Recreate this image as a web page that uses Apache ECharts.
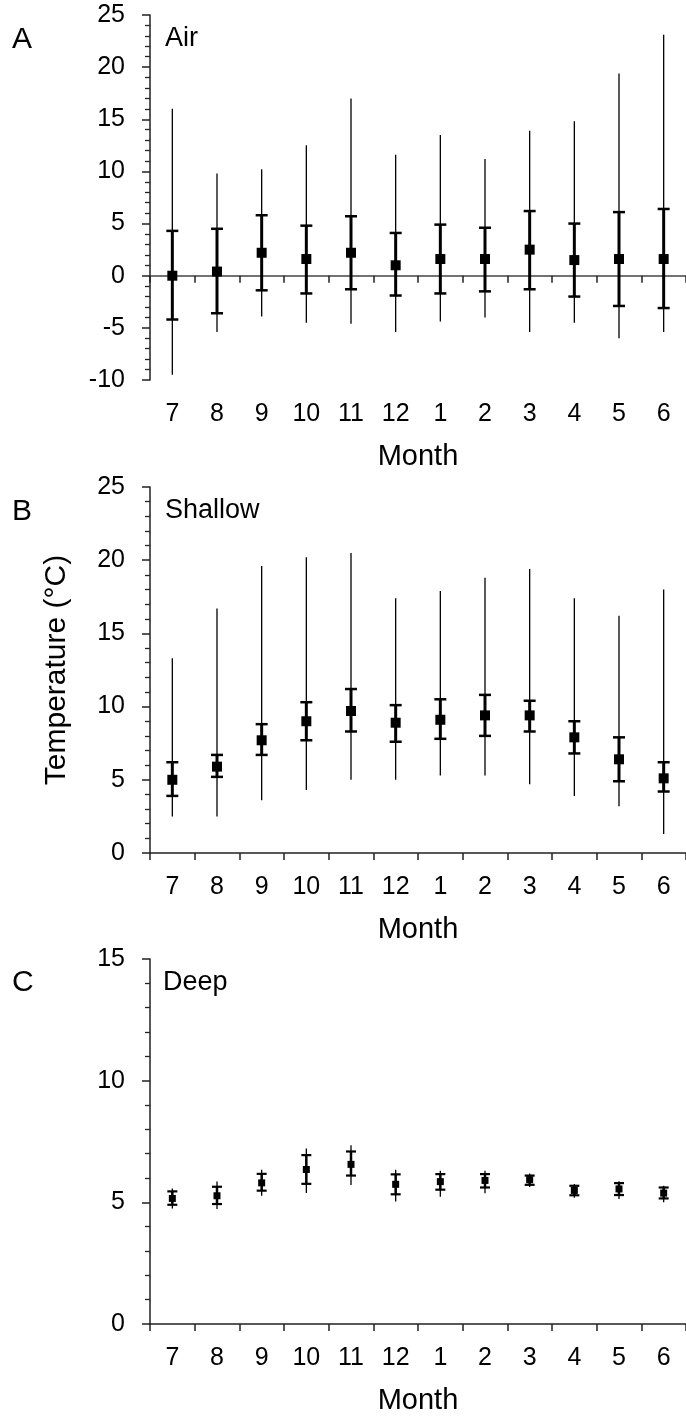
<!DOCTYPE html>
<html>
<head>
<meta charset="utf-8">
<script src="https://cdn.jsdelivr.net/npm/echarts@6/dist/echarts.min.js"></script>
<style>
html,body{margin:0;padding:0;background:#fff;}
#chart{width:686px;height:1416px;}
</style>
</head>
<body>
<div id="chart"></div>
<script>
// ---- data ----
const months = ['7','8','9','10','11','12','1','2','3','4','5','6'];

const airMean   = [0.0, 0.4, 2.2, 1.6, 2.2, 1.0, 1.6, 1.6, 2.5, 1.5, 1.6, 1.6];
const airSdLow  = [-4.2, -3.6, -1.4, -1.7, -1.3, -1.9, -1.7, -1.5, -1.3, -2.0, -2.9, -3.1];
const airSdHigh = [4.3, 4.5, 5.8, 4.8, 5.7, 4.1, 4.9, 4.6, 6.2, 5.0, 6.1, 6.4];
const airMin    = [-9.5, -5.4, -3.9, -4.5, -4.6, -5.4, -4.4, -4.0, -5.4, -4.5, -6.0, -5.4];
const airMax    = [16.0, 9.8, 10.2, 12.5, 17.0, 11.6, 13.5, 11.2, 13.9, 14.8, 19.4, 23.1];

const shallowMean   = [5.0, 5.9, 7.7, 9.0, 9.7, 8.9, 9.1, 9.4, 9.4, 7.9, 6.4, 5.1];
const shallowSdLow  = [3.9, 5.2, 6.7, 7.7, 8.3, 7.6, 7.8, 8.0, 8.3, 6.8, 4.9, 4.2];
const shallowSdHigh = [6.2, 6.7, 8.8, 10.3, 11.2, 10.1, 10.5, 10.8, 10.4, 9.0, 7.9, 6.2];
const shallowMin    = [2.5, 2.5, 3.6, 4.3, 5.0, 5.0, 5.3, 5.3, 4.7, 3.9, 3.2, 1.3];
const shallowMax    = [13.3, 16.7, 19.6, 20.2, 20.5, 17.4, 17.9, 18.8, 19.4, 17.4, 16.2, 18.0];

const deepMean   = [5.16, 5.27, 5.80, 6.35, 6.56, 5.74, 5.85, 5.90, 5.93, 5.49, 5.55, 5.38];
const deepSdLow  = [4.90, 4.93, 5.48, 5.76, 6.10, 5.33, 5.52, 5.61, 5.72, 5.29, 5.30, 5.16];
const deepSdHigh = [5.45, 5.64, 6.17, 6.94, 7.09, 6.15, 6.16, 6.16, 6.10, 5.68, 5.79, 5.61];
const deepMin    = [4.75, 4.73, 5.27, 5.38, 5.71, 5.03, 5.23, 5.37, 5.63, 5.19, 5.14, 5.00];
const deepMax    = [5.57, 5.86, 6.34, 7.21, 7.35, 6.34, 6.30, 6.30, 6.19, 5.75, 5.87, 5.68];

const yTicksAir = [-10, 25, 5];
const yTicksShallow = [0, 25, 5];
const yTicksDeep = [0, 15, 5];

// ---- chart ----
const FONT = "'Liberation Sans', Arial, Helvetica, sans-serif";
const AX = '#222';

function rows(mean, sl, sh, mn, mx) {
  return months.map((m, i) => [i, mean[i], sl[i], sh[i], mn[i], mx[i]]);
}

function makeRender(markSize, capW, sdW, capLW) {
  return function (params, api) {
    const i = api.value(0);
    const c = api.coord([i, api.value(1)]);
    const sl = api.coord([i, api.value(2)]);
    const sh = api.coord([i, api.value(3)]);
    const mn = api.coord([i, api.value(4)]);
    const mx = api.coord([i, api.value(5)]);
    const st = { stroke: '#000', lineWidth: 1.3 };
    return {
      type: 'group',
      children: [
        { type: 'line', shape: { x1: mn[0], y1: mn[1], x2: mx[0], y2: mx[1] }, style: st },
        { type: 'line', shape: { x1: sl[0], y1: sl[1], x2: sh[0], y2: sh[1] }, style: { stroke: '#000', lineWidth: sdW } },
        { type: 'line', shape: { x1: sl[0] - capW / 2, y1: sl[1], x2: sl[0] + capW / 2, y2: sl[1] }, style: { stroke: '#000', lineWidth: capLW } },
        { type: 'line', shape: { x1: sh[0] - capW / 2, y1: sh[1], x2: sh[0] + capW / 2, y2: sh[1] }, style: { stroke: '#000', lineWidth: capLW } },
        { type: 'rect', shape: { x: c[0] - markSize / 2, y: c[1] - markSize / 2, width: markSize, height: markSize }, style: { fill: '#000' } }
      ]
    };
  };
}

function yAxis(gridIndex, t, extra) {
  return Object.assign({
    type: 'value', gridIndex: gridIndex, min: t[0], max: t[1], interval: t[2],
    axisLine: { show: true, onZero: false, lineStyle: { color: AX, width: 1.5 } },
    axisTick: { show: true, length: 8, lineStyle: { color: AX, width: 1.5 } },
    minorTick: { show: true, splitNumber: 5, length: 5, lineStyle: { color: AX, width: 1.3 } },
    splitLine: { show: false },
    axisLabel: { fontSize: 25, color: '#000', fontFamily: FONT, margin: 25 }
  }, extra || {});
}

function xLabelAxis(gridIndex, showLine) {
  return {
    type: 'category', gridIndex: gridIndex, data: months, position: 'bottom',
    axisLine: { show: showLine, onZero: false, lineStyle: { color: AX, width: 1.5 } },
    axisTick: { show: showLine, length: 7, lineStyle: { color: AX, width: 1.5 } },
    axisLabel: { interval: 0, fontSize: 25, color: '#000', fontFamily: FONT, margin: 22 },
    name: 'Month', nameLocation: 'middle', nameGap: 62,
    nameTextStyle: { fontSize: 29, color: '#000', fontFamily: FONT }
  };
}

const grids = [
  { left: 150, top: 15, width: 538, height: 365 },
  { left: 150, top: 487, width: 538, height: 366 },
  { left: 150, top: 959, width: 538, height: 366 }
];

function panelText(txt, x, y, size) {
  return { type: 'text', x: x, y: y, style: { text: txt, fontSize: size, fontFamily: FONT, fill: '#000', textVerticalAlign: 'middle' } };
}

const option = {
  animation: false,
  backgroundColor: '#fff',
  grid: grids,
  xAxis: [
    xLabelAxis(0, false),
    {
      type: 'category', gridIndex: 0, data: months, position: 'top',
      axisLine: { show: true, onZero: true, lineStyle: { color: '#444', width: 1.5 } },
      axisTick: { show: true, inside: true, length: 7, lineStyle: { color: AX, width: 1.5 } },
      axisLabel: { show: false }
    },
    xLabelAxis(1, true),
    xLabelAxis(2, true)
  ],
  yAxis: [
    yAxis(0, yTicksAir),
    yAxis(1, yTicksShallow, {
      name: 'Temperature (°C)', nameLocation: 'middle', nameRotate: 90, nameGap: 78,
      nameTextStyle: { fontSize: 30, color: '#000', fontFamily: FONT }
    }),
    yAxis(2, yTicksDeep)
  ],
  graphic: [
    panelText('A', 12, 40, 30),
    panelText('Air', 165, 39, 27),
    panelText('B', 12, 512, 30),
    panelText('Shallow', 165, 511, 27),
    panelText('C', 12, 983, 30),
    panelText('Deep', 163, 983, 27)
  ],
  series: [
    { type: 'custom', xAxisIndex: 0, yAxisIndex: 0, renderItem: makeRender(10, 12, 3, 2.5),
      data: rows(airMean, airSdLow, airSdHigh, airMin, airMax), encode: { x: 0, y: [1, 2, 3, 4, 5] }, clip: false },
    { type: 'custom', xAxisIndex: 2, yAxisIndex: 1, renderItem: makeRender(10, 12, 3, 2.5),
      data: rows(shallowMean, shallowSdLow, shallowSdHigh, shallowMin, shallowMax), encode: { x: 0, y: [1, 2, 3, 4, 5] }, clip: false },
    { type: 'custom', xAxisIndex: 3, yAxisIndex: 2, renderItem: makeRender(7, 10, 2.5, 2.2),
      data: rows(deepMean, deepSdLow, deepSdHigh, deepMin, deepMax), encode: { x: 0, y: [1, 2, 3, 4, 5] }, clip: false }
  ]
};

const chart = echarts.init(document.getElementById('chart'), null, { renderer: 'canvas' });
chart.setOption(option);
</script>
</body>
</html>
